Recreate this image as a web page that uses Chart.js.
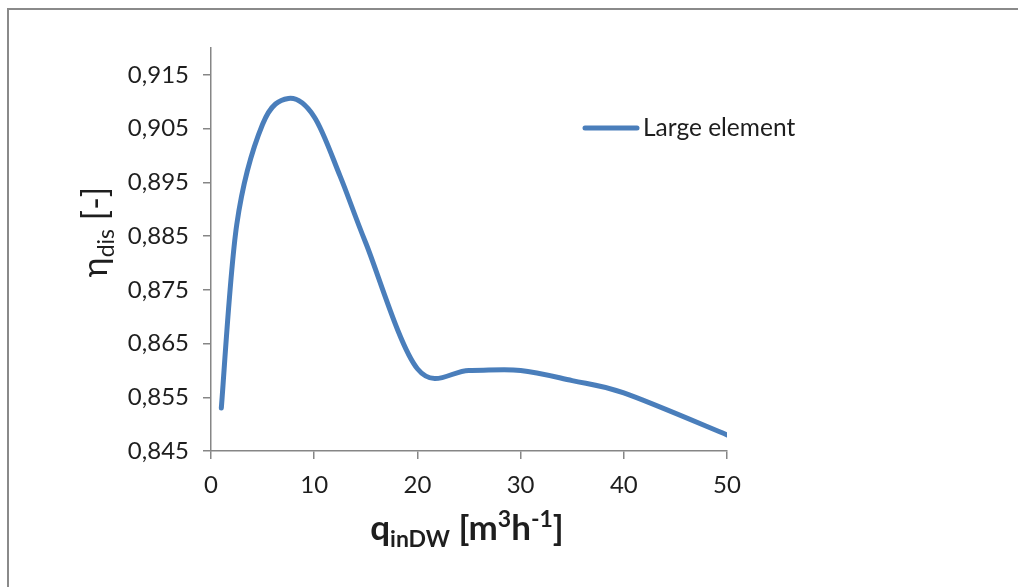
<!DOCTYPE html>
<html>
<head>
<meta charset="utf-8">
<script src="https://cdn.jsdelivr.net/npm/chart.js@4/dist/chart.umd.min.js"></script>
<style>
  html, body { margin: 0; padding: 0; background: #fff; }
  canvas { display: block; }
</style>
</head>
<body>
<canvas id="grafico" width="1018" height="587"></canvas>
<script>
// datos
const caudal = [1, 2.5, 5, 7.5, 10, 12.5, 15, 20, 25, 30, 35, 40, 50];
const etaLarge = [0.853, 0.8872, 0.9058, 0.9106, 0.9072, 0.8962, 0.8837, 0.8603, 0.8600, 0.8600, 0.8581, 0.8558, 0.8480];
const serieNombre = 'Large element';
const xTicks = [0, 10, 20, 30, 40, 50];
const yTicks = [0.845, 0.855, 0.865, 0.875, 0.885, 0.895, 0.905, 0.915];

const FUENTE = "Lato, 'Open Sans', 'DejaVu Sans', sans-serif";
const AZUL = '#4a7ebb';
const GRIS = '#868686';
const TEXTO = '#1e1e1e';

// dibuja texto con subindices / superindices, centrado en x
function textoRico(ctx, partes, cx, baseY) {
  let total = 0;
  partes.forEach(p => {
    ctx.font = (p.bold ? 'bold ' : '') + p.size + 'px ' + FUENTE;
    p.w = ctx.measureText(p.t).width;
    total += p.w;
  });
  let x = cx - total / 2;
  ctx.textAlign = 'left';
  ctx.textBaseline = 'alphabetic';
  partes.forEach(p => {
    ctx.font = (p.bold ? 'bold ' : '') + p.size + 'px ' + FUENTE;
    ctx.fillText(p.t, x, baseY + (p.dy || 0));
    x += p.w;
  });
}

// suavizado tipo Excel: puntos de control a 1/6 (Catmull-Rom uniforme)
const suavizado = {
  id: 'suavizado',
  beforeDatasetsDraw(chart) {
    chart.data.datasets.forEach((ds, d) => {
      const meta = chart.getDatasetMeta(d);
      if (!meta.dataset) return;
      meta.dataset.updateControlPoints(chart.chartArea);
      const pts = meta.data;
      const n = pts.length;
      for (let i = 0; i < n; i++) {
        const prev = pts[Math.max(i - 1, 0)];
        const next = pts[Math.min(i + 1, n - 1)];
        const dx = (next.x - prev.x) / 6;
        const dy = (next.y - prev.y) / 6;
        pts[i].cp1x = pts[i].x - dx;
        pts[i].cp1y = pts[i].y - dy;
        pts[i].cp2x = pts[i].x + dx;
        pts[i].cp2y = pts[i].y + dy;
      }
    });
  }
};

const extras = {
  id: 'extras',
  beforeDraw(chart) {
    const ctx = chart.ctx;
    ctx.save();
    // marco del grafico
    ctx.fillStyle = '#8a8a8a';
    ctx.fillRect(7, 8, 2, 600);
    ctx.fillRect(7, 8, 1020, 2);
    ctx.restore();
  },
  afterDraw(chart) {
    const ctx = chart.ctx;
    ctx.save();
    ctx.fillStyle = TEXTO;

    // titulo eje x
    textoRico(ctx, [
      { t: 'q', size: 35, bold: true },
      { t: 'inDW', size: 23, bold: true, dy: 7 },
      { t: ' [m', size: 35, bold: true },
      { t: '3', size: 23, bold: true, dy: -13 },
      { t: 'h', size: 35, bold: true },
      { t: '-1', size: 23, bold: true, dy: -13 },
      { t: ']', size: 35, bold: true }
    ], 467, 540);

    // titulo eje y (rotado)
    ctx.translate(107, 232);
    ctx.rotate(-Math.PI / 2);
    textoRico(ctx, [
      { t: 'η', size: 34 },
      { t: 'dis', size: 23, dy: 7 },
      { t: ' [-]', size: 34 }
    ], 0, 0);
    ctx.restore();

    // leyenda
    ctx.save();
    ctx.strokeStyle = AZUL;
    ctx.lineWidth = 5;
    ctx.lineCap = 'round';
    ctx.beginPath();
    ctx.moveTo(585, 128);
    ctx.lineTo(637, 128);
    ctx.stroke();
    ctx.fillStyle = TEXTO;
    ctx.font = '24.5px ' + FUENTE;
    ctx.textAlign = 'left';
    ctx.textBaseline = 'middle';
    ctx.fillText(chart.data.datasets[0].label, 643, 128);
    ctx.restore();
  }
};

const ctx = document.getElementById('grafico').getContext('2d');
new Chart(ctx, {
  type: 'scatter',
  data: {
    datasets: [{
      label: serieNombre,
      data: caudal.map((x, i) => ({ x: x, y: etaLarge[i] })),
      showLine: true,
      borderColor: AZUL,
      borderWidth: 5,
      pointRadius: 0,
      tension: 0.4,
      borderCapStyle: 'round',
      borderJoinStyle: 'round'
    }]
  },
  options: {
    responsive: false,
    animation: false,
    devicePixelRatio: 1,
    layout: { padding: { left: 0, top: 48, right: 291, bottom: 0 } },
    plugins: {
      legend: { display: false },
      tooltip: { enabled: false }
    },
    scales: {
      x: {
        type: 'linear',
        min: 0,
        max: 50,
        afterBuildTicks: s => { s.ticks = xTicks.map(v => ({ value: v })); },
        afterFit: s => { s.height = 136; },
        grid: { drawOnChartArea: false, drawTicks: true, tickLength: 8, color: GRIS, lineWidth: 1.5 },
        border: { color: GRIS, width: 1.5 },
        ticks: {
          color: TEXTO,
          font: { family: FUENTE, size: 24 },
          padding: 12,
          maxRotation: 0
        }
      },
      y: {
        type: 'linear',
        min: 0.845,
        max: 0.92,
        afterBuildTicks: s => { s.ticks = yTicks.map(v => ({ value: v })); },
        afterFit: s => { s.width = 211; },
        grid: { drawOnChartArea: false, drawTicks: true, tickLength: 8, color: GRIS, lineWidth: 1.5 },
        border: { color: GRIS, width: 1.5 },
        ticks: {
          color: TEXTO,
          font: { family: FUENTE, size: 24 },
          padding: 14,
          callback: v => v.toFixed(3).replace('.', ',')
        }
      }
    }
  },
  plugins: [suavizado, extras]
});
</script>
</body>
</html>
